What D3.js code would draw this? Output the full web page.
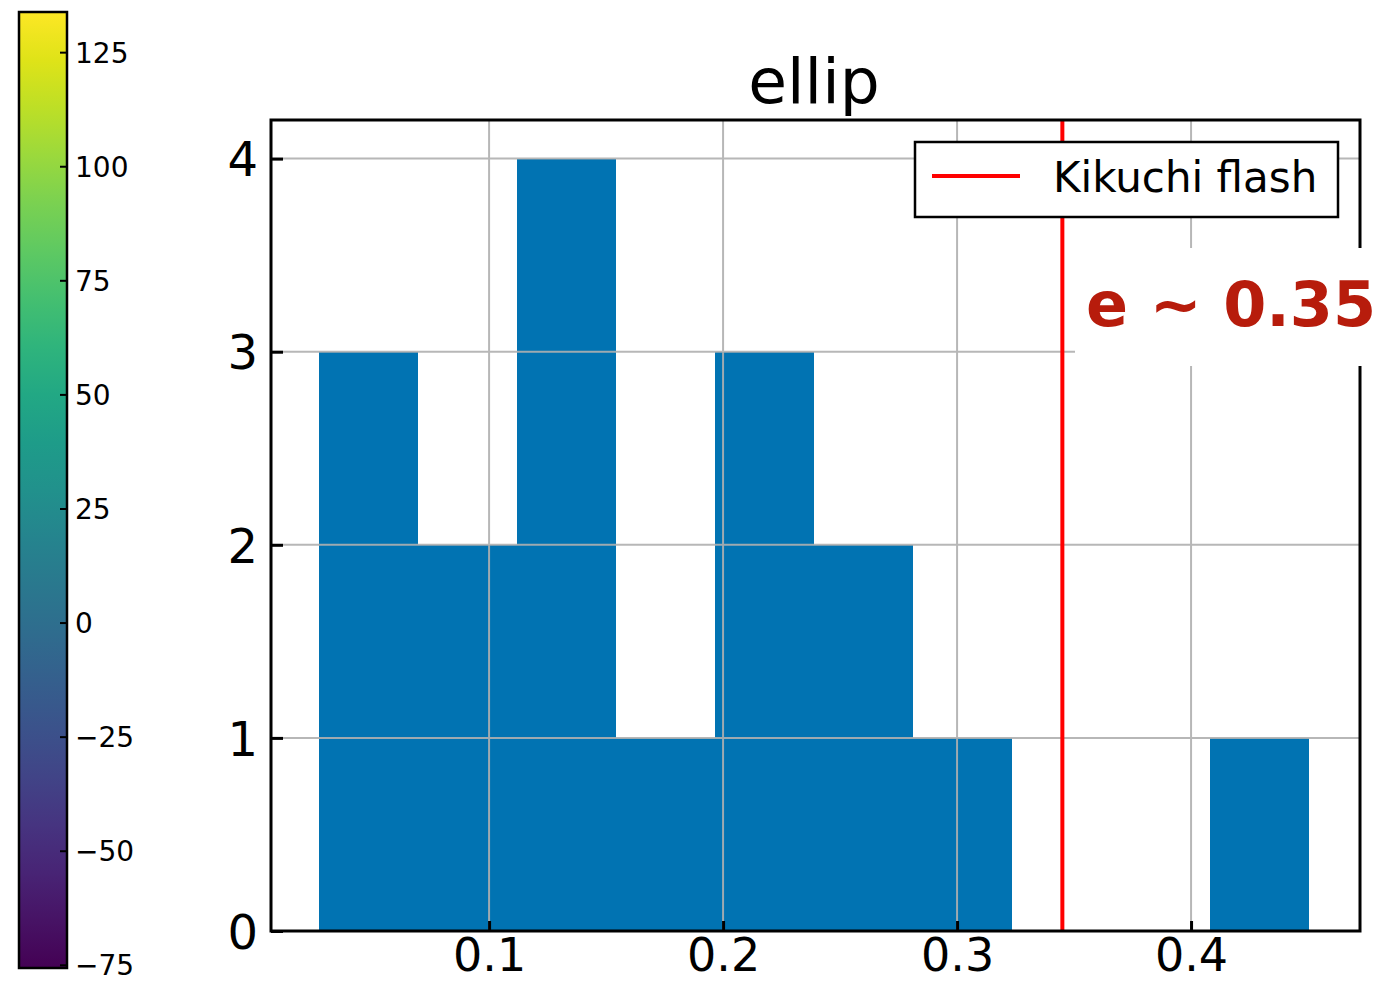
<!DOCTYPE html>
<html>
<head>
<meta charset="utf-8">
<script src="https://cdn.jsdelivr.net/npm/d3@7"></script>
<style>
  body { margin: 0; background: #fff; }
  text { font-family: 'DejaVu Sans', sans-serif; }
</style>
</head>
<body>
<svg width="1394" height="982"></svg>
<script>
// histogram data
const binEdges = [0.0274, 0.0697, 0.1120, 0.1543, 0.1966, 0.2389, 0.2812, 0.3235, 0.3658, 0.4081, 0.4504];
const counts = [3, 2, 4, 1, 3, 2, 1, 0, 0, 1];
const xTicks = [0.1, 0.2, 0.3, 0.4];
const yTicks = [0, 1, 2, 3, 4];
const flashValue = 0.345;
const cbarTicks = [-75, -50, -25, 0, 25, 50, 75, 100, 125];

const svg = d3.select('svg');

const plotLeft = 271, plotRight = 1360, plotTop = 120, plotBottom = 931;

const x = d3.scaleLinear().domain([0.0068, 0.4722]).range([plotLeft, plotRight]);
const y = d3.scaleLinear().domain([0, 4.2]).range([plotBottom, plotTop]);

// bars
const bins = counts.map((c, i) => ({ x0: binEdges[i], x1: binEdges[i + 1], count: c }));
svg.append('g').attr('shape-rendering', 'crispEdges')
  .selectAll('rect')
  .data(bins.filter(d => d.count > 0))
  .join('rect')
  .attr('x', d => Math.round(x(d.x0)))
  .attr('width', d => Math.round(x(d.x1)) - Math.round(x(d.x0)))
  .attr('y', d => y(d.count))
  .attr('height', d => y(0) - y(d.count))
  .attr('fill', '#0173b2');

// grid on top of bars
const grid = svg.append('g').attr('stroke', '#b0b0b0').attr('stroke-width', 2).attr('opacity', 0.9);
grid.selectAll('.gx').data(xTicks).join('line')
  .attr('x1', d => x(d)).attr('x2', d => x(d))
  .attr('y1', plotTop).attr('y2', plotBottom);
grid.selectAll('.gy').data(yTicks).join('line')
  .attr('x1', plotLeft).attr('x2', plotRight)
  .attr('y1', d => y(d)).attr('y2', d => y(d));

// Kikuchi flash line
svg.append('line')
  .attr('x1', x(flashValue)).attr('x2', x(flashValue))
  .attr('y1', plotTop).attr('y2', plotBottom)
  .attr('stroke', '#ff0000').attr('stroke-width', 4);

// axes with inward ticks
const xAxis = svg.append('g')
  .attr('transform', `translate(0, ${plotBottom})`)
  .call(d3.axisBottom(x).tickValues(xTicks).tickSizeInner(-10).tickSizeOuter(0).tickPadding(20).tickFormat(d3.format('.1f')));
xAxis.select('.domain').remove();
xAxis.selectAll('line').attr('stroke', '#000').attr('stroke-width', 3);
xAxis.selectAll('text').attr('font-size', 46).attr('fill', '#000')
  .attr('dy', null).attr('y', 40);

const yAxis = svg.append('g')
  .attr('transform', `translate(${plotLeft}, 0)`)
  .call(d3.axisLeft(y).tickValues(yTicks).tickSizeInner(-12).tickSizeOuter(0).tickPadding(13).tickFormat(d3.format('d')));
yAxis.select('.domain').remove();
yAxis.selectAll('line').attr('stroke', '#000').attr('stroke-width', 3);
yAxis.selectAll('text').attr('font-size', 48).attr('fill', '#000').attr('dy', '0.36em');

// frame
svg.append('rect')
  .attr('x', plotLeft).attr('y', plotTop)
  .attr('width', plotRight - plotLeft).attr('height', plotBottom - plotTop)
  .attr('fill', 'none').attr('stroke', '#000').attr('stroke-width', 3);

// title
svg.append('text')
  .attr('x', 814).attr('y', 103)
  .attr('text-anchor', 'middle')
  .attr('font-size', 63)
  .text('ellip');

// legend
const legend = svg.append('g');
legend.append('rect')
  .attr('x', 915).attr('y', 142).attr('width', 423).attr('height', 75)
  .attr('fill', '#fff').attr('stroke', '#000').attr('stroke-width', 2.5);
legend.append('line')
  .attr('x1', 932).attr('x2', 1020).attr('y1', 176).attr('y2', 176)
  .attr('stroke', '#ff0000').attr('stroke-width', 4);
legend.append('text')
  .attr('x', 1053).attr('y', 192)
  .attr('font-size', 42)
  .text('Kikuchi flash');

// annotation
svg.append('rect')
  .attr('x', 1075).attr('y', 248).attr('width', 330).attr('height', 118)
  .attr('fill', '#fff');
svg.append('text')
  .attr('x', 1086).attr('y', 326)
  .attr('font-size', 62).attr('font-weight', 'bold')
  .attr('fill', '#b71c0c')
  .text('e ~ 0.35');

// colorbar
const cbLeft = 19, cbRight = 67, cbTop = 12, cbBottom = 968;
const c = d3.scaleLinear().domain([-75.7, 133.8]).range([cbBottom, cbTop]);
const defs = svg.append('defs');
const grad = defs.append('linearGradient').attr('id', 'vir')
  .attr('x1', 0).attr('y1', 1).attr('x2', 0).attr('y2', 0);
grad.selectAll('stop').data(d3.range(0, 1.0001, 0.05)).join('stop')
  .attr('offset', d => d)
  .attr('stop-color', d => d3.interpolateViridis(d));
svg.append('rect')
  .attr('x', cbLeft).attr('y', cbTop)
  .attr('width', cbRight - cbLeft).attr('height', cbBottom - cbTop)
  .attr('fill', 'url(#vir)').attr('stroke', '#000').attr('stroke-width', 2.5);

const cAxis = svg.append('g')
  .attr('transform', `translate(${cbRight}, 0)`)
  .call(d3.axisRight(c).tickValues(cbarTicks).tickSizeInner(-7).tickSizeOuter(0).tickPadding(15)
    .tickFormat(d => d < 0 ? '\u2212' + Math.abs(d) : d));
cAxis.select('.domain').remove();
cAxis.selectAll('line').attr('stroke', '#000').attr('stroke-width', 2);
cAxis.selectAll('text').attr('font-size', 28).attr('fill', '#000').attr('x', 8).attr('dy', '0.36em');
</script>
</body>
</html>
